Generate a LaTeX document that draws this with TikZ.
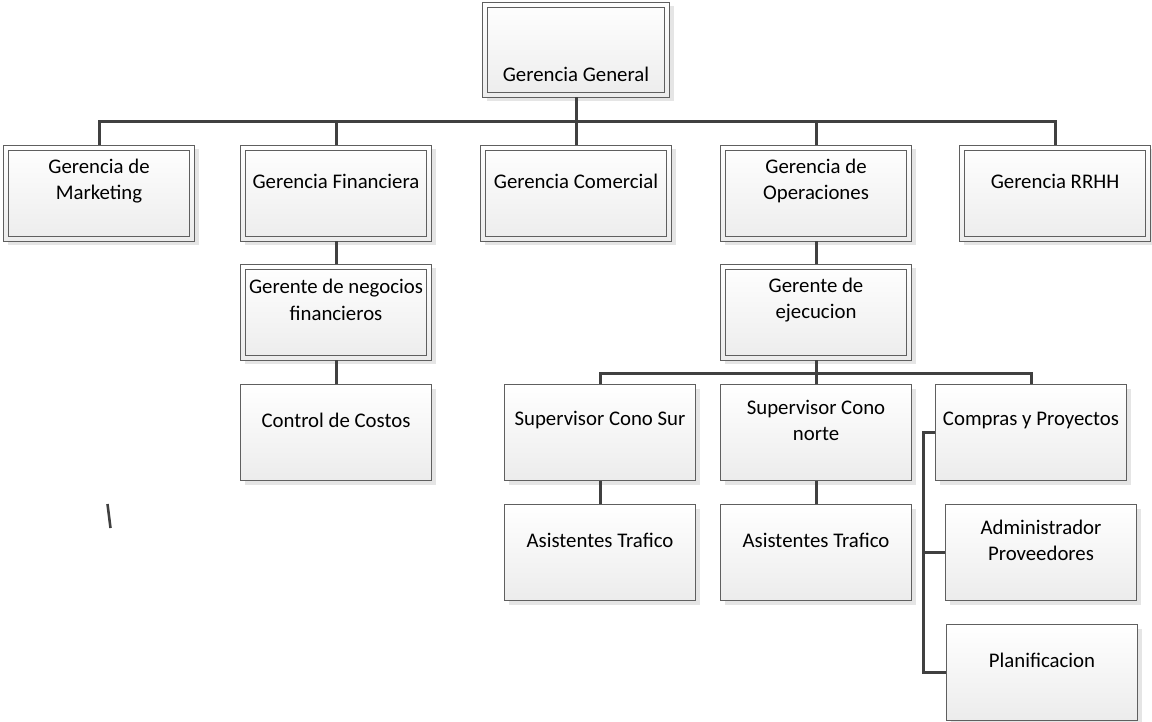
\documentclass[tikz,border=0pt]{standalone}
\usepackage{fontspec}
\setmainfont{Carlito}
\usetikzlibrary{shadows,calc}
\definecolor{bord}{HTML}{5F5F5F}
\definecolor{conn}{HTML}{404040}
\definecolor{fillbot}{HTML}{ECECEC}
\begin{document}
\begin{tikzpicture}[x=1pt,y=-1pt,
 box/.style={rectangle, draw=bord, line width=0.9pt, minimum width=191pt, minimum height=96pt, inner sep=0pt,
   top color=white, bottom color=fillbot,
   drop shadow={shadow xshift=4pt, shadow yshift=-4pt, fill=black, opacity=0.1}},
 dbox/.style={box, path picture={\draw[bord, line width=0.9pt]
   ([shift={(5pt,-5pt)}]path picture bounding box.north west) rectangle
   ([shift={(-5pt,5pt)}]path picture bounding box.south east);}},
 txt/.style={font=\fontsize{20.8}{26.5}\selectfont, align=center, inner sep=0pt, text=black},
 link/.style={draw=conn, line width=3pt, line join=miter}
]
\useasboundingbox (0,0) rectangle (1152,722);
\coordinate (bus1) at (0,122);
\coordinate (bus2) at (0,373);

% level 1
\node[dbox, minimum width=187pt, minimum height=95pt] (gg) at (576,49.5) {};
\node[txt] (gg-t) at ($(gg.center)+(0,25)$) {Gerencia General};

% level 2
\node[dbox] (mk) at (99,193) {};
\node[txt] (mk-t) at ($(mk.center)+(0,-12)$) {Gerencia de\\Marketing};
\node[dbox] (fin) at (336,193) {};
\node[txt] (fin-t) at ($(fin.center)+(0,-12)$) {Gerencia Financiera};
\node[dbox] (com) at (576,193) {};
\node[txt] (com-t) at ($(com.center)+(0,-12)$) {Gerencia Comercial};
\node[dbox] (op) at (816,193) {};
\node[txt] (op-t) at ($(op.center)+(0,-12)$) {Gerencia de\\Operaciones};
\node[dbox] (rh) at (1055,193) {};
\node[txt] (rh-t) at ($(rh.center)+(0,-12)$) {Gerencia RRHH};

% level 3
\node[dbox] (gne) at (336,312) {};
\node[txt] (gne-t) at ($(gne.center)+(0,-12)$) {Gerente de negocios\\financieros};
\node[dbox] (eje) at (816,312) {};
\node[txt] (eje-t) at ($(eje.center)+(0,-12)$) {Gerente de\\ejecucion};

% level 4
\node[box] (cc) at (336,432.5) {};
\node[txt] (cc-t) at ($(cc.center)+(0,-12)$) {Control de Costos};
\node[box] (sur) at (600,432.5) {};
\node[txt] (sur-t) at ($(sur.center)+(0,-12)$) {Supervisor Cono Sur};
\node[box] (nor) at (816,432.5) {};
\node[txt] (nor-t) at ($(nor.center)+(0,-12)$) {Supervisor Cono\\norte};
\node[box] (comp) at (1031,432.5) {};
\node[txt] (comp-t) at ($(comp.center)+(0,-12)$) {Compras y Proyectos};

% level 5
\node[box] (at1) at (600,552.5) {};
\node[txt] (at1-t) at ($(at1.center)+(0,-12)$) {Asistentes Trafico};
\node[box] (at2) at (816,552.5) {};
\node[txt] (at2-t) at ($(at2.center)+(0,-12)$) {Asistentes Trafico};
\node[box] (adm) at (1041,552.5) {};
\node[txt] (adm-t) at ($(adm.center)+(0,-12)$) {Administrador\\Proveedores};

% level 6
\node[box] (pla) at (1042,672.5) {};
\node[txt] (pla-t) at ($(pla.center)+(0,-12)$) {Planificacion};

% connectors
\foreach \c in {mk,fin,com,op,rh}
  \draw[link] (gg.south) |- (\c.north |- bus1) -- (\c.north);
\draw[link] (fin.south) -- (gne.north);
\draw[link] (gne.south) -- (cc.north);
\draw[link] (op.south) -- (eje.north);
\foreach \c in {sur,nor,comp}
  \draw[link] (eje.south) |- (\c.north |- bus2) -- (\c.north);
\draw[link] (sur.south) -- (at1.north);
\draw[link] (nor.south) -- (at2.north);
\draw[link] (comp.west) -- ++(-12,0) |- (adm.west);
\draw[link] (comp.west) -- ++(-12,0) |- (pla.west);

% stray mark
\draw[conn, line width=2.6pt] (107.5,504) -- (110.5,528);
\end{tikzpicture}
\end{document}
